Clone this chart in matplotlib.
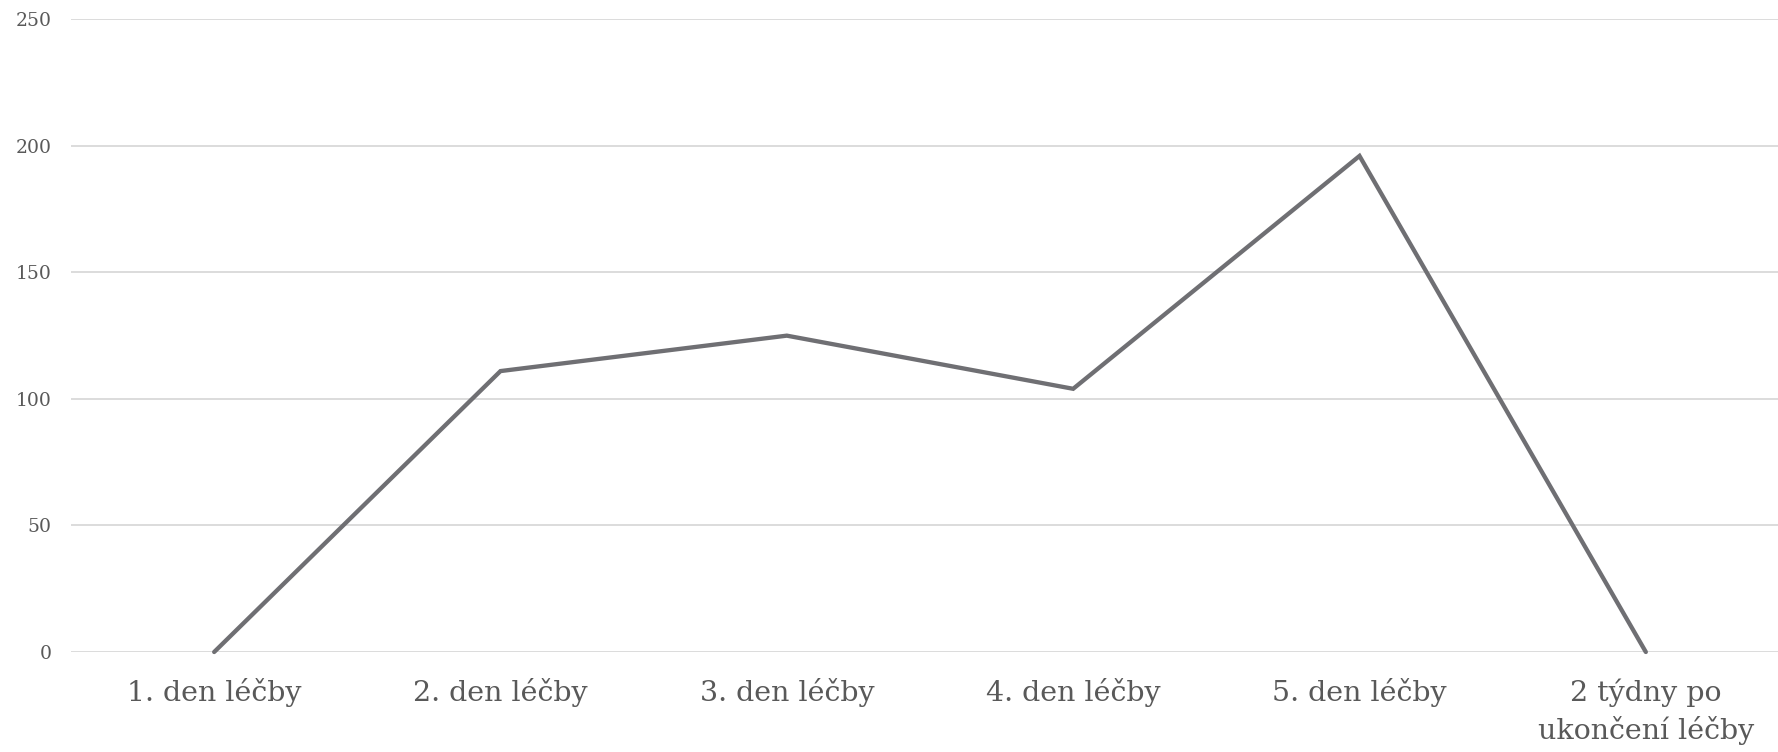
import matplotlib
matplotlib.use("Agg")
import matplotlib.pyplot as plt

categories = ["1. den léčby", "2. den léčby", "3. den léčby", "4. den léčby",
              "5. den léčby", "2 týdny po\nukončení léčby"]
values = [0, 111, 125, 104, 196, 0]
yticks = [0, 50, 100, 150, 200, 250]

W, H, DPI = 1778, 752, 100
fig = plt.figure(figsize=(W / DPI, H / DPI), dpi=DPI)
ax = fig.add_axes([71 / W, 100 / H, (1789 - 71) / W, (732.7 - 100) / H])

x = list(range(len(categories)))
ax.plot(x, values, color="#6f6f73", linewidth=3.1, solid_joinstyle="miter",
        solid_capstyle="round", zorder=3, clip_on=False)

ax.set_xlim(-0.5, len(categories) - 0.5)
ax.set_ylim(0, 250)
ax.set_yticks(yticks)
ax.set_yticklabels([str(v) for v in yticks], family="DejaVu Serif",
                   fontsize=13.5, color="#595959")
ax.set_xticks(x)
ax.set_xticklabels(categories, family="DejaVu Serif", fontsize=20.5,
                   color="#595959", linespacing=1.4)
ax.tick_params(axis="y", length=0, pad=14)
ax.tick_params(axis="x", length=0, pad=19)
ax.grid(axis="y", color="#d9d9d9", linewidth=1.3)
ax.set_axisbelow(True)
for s in ax.spines.values():
    s.set_visible(False)

fig.savefig("out.png", dpi=DPI, facecolor="white")
